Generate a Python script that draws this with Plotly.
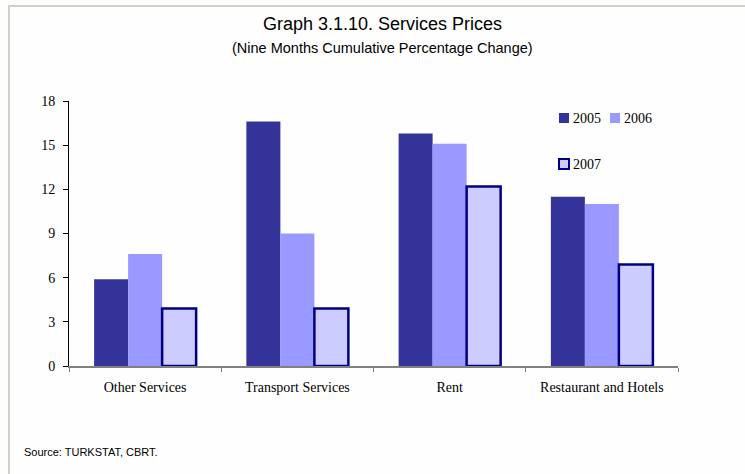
import plotly.graph_objects as go

# Nine-month cumulative percentage change in services prices
categories = ["Other Services", "Transport Services", "Rent", "Restaurant and Hotels"]
years = ["2005", "2006", "2007"]
values_2005 = [5.9, 16.6, 15.8, 11.5]
values_2006 = [7.6, 9.0, 15.1, 11.0]
values_2007 = [3.9, 3.9, 12.2, 6.9]
y_ticks = [0, 3, 6, 9, 12, 15, 18]

W, H = 745, 474
L, R, T, B = 69, 67, 101, 108
PW, PH = W - L - R, H - T - B


def px_x(x):
    return (x - L) / PW


def px_y(y):
    return (H - B - y) / PH


SERIF = "Liberation Serif, Times New Roman, serif"
SANS = "Liberation Sans, Arial, sans-serif"

fills = ["#333399", "#9999FF", "#CCCCFF"]
outlines = [None, None, "#000080"]

fig = go.Figure()
for name, vals, fill, edge in zip(years, [values_2005, values_2006, values_2007], fills, outlines):
    fig.add_bar(
        x=categories, y=vals, name=name, showlegend=False,
        marker=dict(color=fill, line=dict(color=edge or fill, width=2.5 if edge else 0)),
    )

# legend: swatch + label, two entries on the first row, one on the second
legend_pos = [(559, 118), (610, 118), (559, 164)]
shapes = []
annotations = []
for name, fill, edge, (lx, ly) in zip(years, fills, outlines, legend_pos):
    shapes.append(dict(
        type="rect", xref="paper", yref="paper",
        x0=px_x(lx), x1=px_x(lx + 10), y0=px_y(ly - 5), y1=px_y(ly + 5),
        fillcolor=fill, line=dict(color=edge or fill, width=2 if edge else 0),
    ))
    annotations.append(dict(
        text=name, xref="paper", yref="paper", x=px_x(lx + 12), y=px_y(ly),
        xanchor="left", yanchor="middle", showarrow=False,
        font=dict(family=SERIF, size=14, color="#000"),
    ))

# page frame
shapes += [
    dict(type="line", xref="paper", yref="paper", x0=px_x(8), x1=px_x(746),
         y0=px_y(6), y1=px_y(6), line=dict(color="#D4D0C8", width=2)),
    dict(type="line", xref="paper", yref="paper", x0=px_x(9), x1=px_x(9),
         y0=px_y(5), y1=px_y(475), line=dict(color="#D4D0C8", width=2)),
]

annotations += [
    dict(text="Graph 3.1.10. Services Prices", xref="paper", yref="paper",
         x=px_x(382), y=px_y(24), xanchor="center", yanchor="middle", showarrow=False,
         font=dict(family=SANS, size=18, color="#000")),
    dict(text="(Nine Months Cumulative Percentage Change)", xref="paper", yref="paper",
         x=px_x(382), y=px_y(48), xanchor="center", yanchor="middle", showarrow=False,
         font=dict(family=SANS, size=14.5, color="#000")),
    dict(text="Source: TURKSTAT, CBRT.", xref="paper", yref="paper",
         x=px_x(22), y=px_y(452), xanchor="left", yanchor="middle", showarrow=False,
         font=dict(family=SANS, size=11, color="#000")),
]

fig.update_layout(
    width=W, height=H,
    margin=dict(l=L, r=R, t=T, b=B, pad=0),
    paper_bgcolor="#FEFEFE", plot_bgcolor="#FEFEFE",
    barmode="group", bargap=0.33, bargroupgap=0,
    xaxis=dict(
        type="category", showgrid=False, zeroline=False,
        showline=True, linecolor="#808080", linewidth=1.5,
        ticks="outside", tickson="boundaries", ticklen=4, tickcolor="#808080",
        tickfont=dict(family=SERIF, size=14, color="#000"),
        ticklabelstandoff=7,
    ),
    yaxis=dict(
        range=[0, 18], tickvals=y_ticks, showgrid=False, zeroline=False,
        showline=True, linecolor="#000", linewidth=1,
        ticks="outside", ticklen=5, tickcolor="#000",
        tickfont=dict(family=SERIF, size=14, color="#000"),
        ticklabelstandoff=5,
    ),
    shapes=shapes,
    annotations=annotations,
)

fig.write_html("out.html")
